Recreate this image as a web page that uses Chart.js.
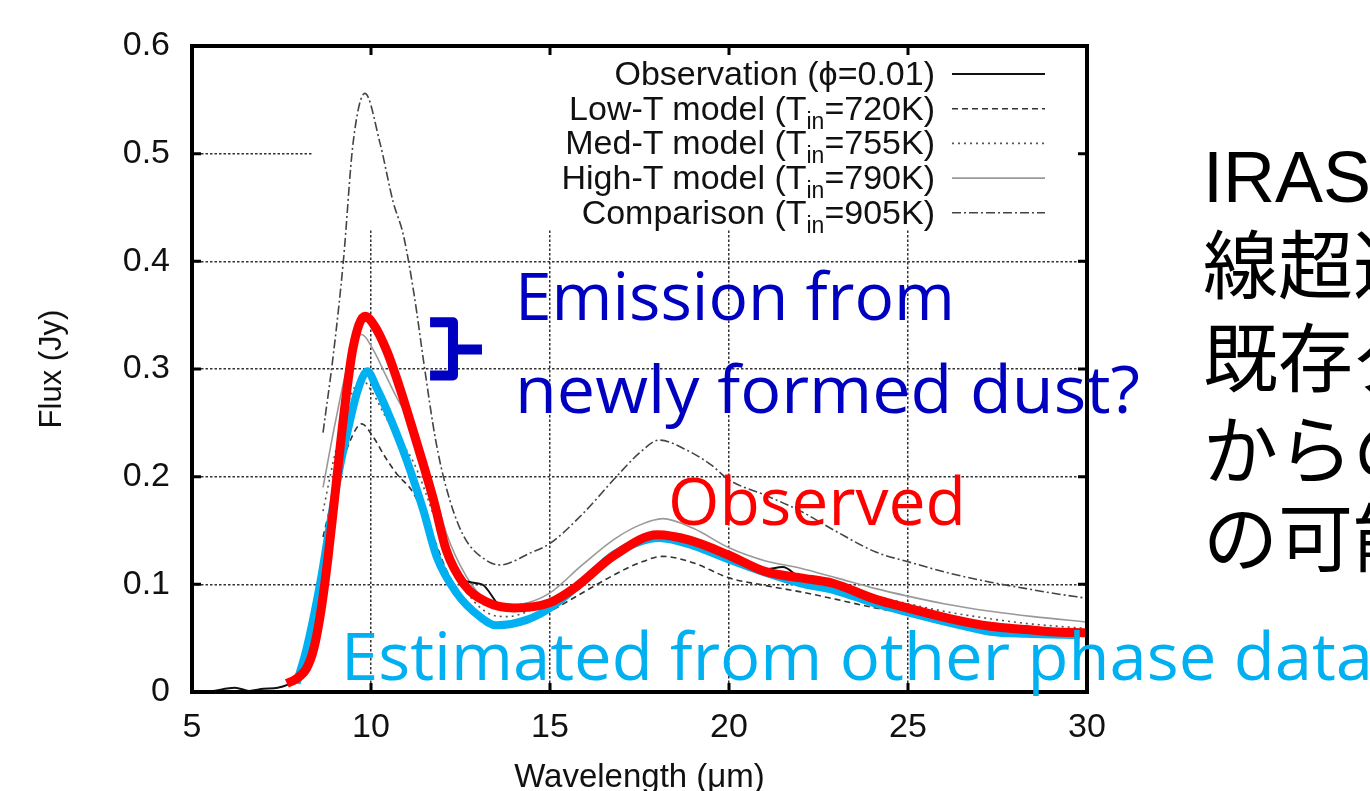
<!DOCTYPE html>
<html>
<head>
<meta charset="utf-8">
<script src="https://cdn.jsdelivr.net/npm/chart.js@4.4.1/dist/chart.umd.min.js"></script>
<style>
  html, body { margin: 0; padding: 0; width: 1370px; height: 791px; overflow: hidden; background: #fff; }
  #wrap { position: relative; width: 1370px; height: 791px; overflow: hidden; }
  #c, #notes { position: absolute; left: 0; top: 0; }
  #notes { pointer-events: none; }
</style>
</head>
<body>
<div id="wrap">
  <canvas id="c" width="1370" height="791"></canvas>
  <svg id="notes" width="1370" height="791" xmlns="http://www.w3.org/2000/svg"></svg>
</div>
<script>
// wavelength (um) / flux (Jy)
const wlObs = [5.6, 6.2, 6.6, 7.0, 7.4, 7.8, 8.2, 8.6, 9.0, 9.4, 9.8, 10.2, 10.6, 11.0, 11.5, 12.0, 12.5, 13.1, 13.6, 14.0, 15.0, 16.0, 17.0, 18.0, 19.0, 20.0, 21.0, 21.5, 22.0, 23.0, 24.0, 25.0, 26.0, 27.0, 28.0, 29.0, 29.9];
const fluxObs = [0.001, 0.004, 0.001, 0.003, 0.004, 0.01, 0.03, 0.085, 0.19, 0.29, 0.345, 0.335, 0.305, 0.265, 0.21, 0.145, 0.105, 0.1, 0.08, 0.077, 0.082, 0.105, 0.135, 0.146, 0.14, 0.128, 0.114, 0.116, 0.106, 0.1, 0.087, 0.078, 0.069, 0.062, 0.058, 0.056, 0.055];

const wlObserved = [7.65, 7.9, 8.2, 8.4, 8.6, 8.8, 9.0, 9.25, 9.5, 9.83, 10.1, 10.45, 10.8, 11.2, 11.75, 12.1, 12.6, 13.2, 14.0, 15.0, 15.7, 16.8, 18.0, 18.9, 20.0, 21.0, 22.0, 22.9, 24.1, 25.0, 26.2, 27.3, 28.3, 29.0, 30.0];
const fluxObserved = [0.008, 0.012, 0.022, 0.04, 0.075, 0.125, 0.185, 0.26, 0.32, 0.349, 0.34, 0.316, 0.283, 0.24, 0.178, 0.132, 0.1, 0.084, 0.078, 0.083, 0.097, 0.127, 0.146, 0.141, 0.127, 0.112, 0.106, 0.101, 0.086, 0.078, 0.068, 0.061, 0.058, 0.056, 0.055];

const wlEstimated = [7.92, 8.2, 8.58, 8.85, 9.13, 9.4, 9.6, 9.9, 10.15, 10.44, 11.0, 11.46, 11.83, 12.39, 13.04, 13.5, 14.35, 15.0, 16.0, 16.8, 18.05, 19.0, 20.0, 21.0, 22.0, 23.0, 24.1, 25.0, 26.2, 27.3, 28.3, 29.8];
const fluxEstimated = [0.008, 0.04, 0.101, 0.155, 0.209, 0.25, 0.277, 0.298, 0.283, 0.262, 0.215, 0.169, 0.126, 0.092, 0.07, 0.062, 0.067, 0.078, 0.105, 0.128, 0.143, 0.136, 0.123, 0.111, 0.101, 0.094, 0.082, 0.074, 0.064, 0.056, 0.054, 0.053];

const wlModel = [8.66, 9.0, 9.4, 9.74, 10.06, 10.4, 10.71, 11.18, 11.74, 12.11, 12.67, 13.23, 13.8, 14.4, 15.0, 15.9, 16.8, 17.5, 18.15, 19.0, 20.0, 21.0, 22.0, 23.0, 24.1, 25.0, 26.0, 27.3, 28.5, 30.0];
const fluxLowT = [0.144, 0.19, 0.232, 0.249, 0.237, 0.218, 0.203, 0.185, 0.144, 0.113, 0.082, 0.064, 0.061, 0.066, 0.075, 0.092, 0.109, 0.12, 0.126, 0.12, 0.106, 0.099, 0.093, 0.086, 0.078, 0.073, 0.067, 0.061, 0.058, 0.055];
const fluxMedT = [0.168, 0.222, 0.272, 0.29, 0.277, 0.256, 0.238, 0.214, 0.165, 0.128, 0.093, 0.074, 0.07, 0.075, 0.085, 0.105, 0.126, 0.138, 0.143, 0.138, 0.124, 0.114, 0.106, 0.098, 0.089, 0.082, 0.075, 0.068, 0.063, 0.059];
const fluxHighT = [0.19, 0.25, 0.31, 0.332, 0.318, 0.295, 0.274, 0.245, 0.19, 0.147, 0.107, 0.085, 0.08, 0.083, 0.092, 0.118, 0.142, 0.155, 0.161, 0.152, 0.134, 0.122, 0.115, 0.106, 0.096, 0.089, 0.082, 0.075, 0.07, 0.065];

const wlComp = [8.66, 8.95, 9.23, 9.5, 9.83, 10.25, 10.62, 10.9, 11.2, 11.5, 11.8, 12.1, 12.57, 13.23, 13.6, 14.44, 15.0, 15.9, 16.8, 17.5, 18.05, 18.8, 19.5, 20.0, 21.0, 22.0, 23.0, 24.1, 25.0, 26.2, 27.3, 28.3, 29.0, 30.0];
const fluxComp = [0.241, 0.314, 0.401, 0.51, 0.556, 0.51, 0.455, 0.425, 0.37, 0.3, 0.235, 0.19, 0.146, 0.122, 0.118, 0.129, 0.138, 0.165, 0.198, 0.222, 0.234, 0.225, 0.211, 0.197, 0.183, 0.168, 0.149, 0.13, 0.121, 0.11, 0.102, 0.096, 0.092, 0.087];

const xTicks = [5, 10, 15, 20, 25, 30];
const yTicks = [0, 0.1, 0.2, 0.3, 0.4, 0.5, 0.6];

const keyLabels = [
  ['Observation (ϕ=0.01)'],
  ['Low-T model (T', 'in', '=720K)'],
  ['Med-T model (T', 'in', '=755K)'],
  ['High-T model (T', 'in', '=790K)'],
  ['Comparison (T', 'in', '=905K)']
];

const notes = [
  { text: 'Emission from', x: 515, y: 320, w: 440, color: '#0000c0' },
  { text: 'newly formed dust?', x: 515, y: 413, w: 625, color: '#0000c0' },
  { text: 'Observed', x: 668, y: 525, w: 298, color: '#ff0000' },
  { text: 'Estimated from other phase data', x: 341, y: 680, w: 1032, color: '#00b0f0' }
];
const jpHead = 'IRAS';
const jpLines = ['の赤外', '線超過は', '既存ダスト', 'からの放射', 'の可能性'];
const jpBase = [202, 293, 386, 478, 566];

const pts = (xs, ys) => xs.map((v, i) => ({ x: v, y: ys[i] }));
const gnuFont = '"Liberation Sans", Arial, sans-serif';

const framePlugin = {
  id: 'frame',
  beforeDatasetsDraw(chart) {
    // opaque key box hides the grid
    const { ctx, chartArea: a, scales: { x, y } } = chart;
    const kx = x.getPixelForValue(8.35);
    const ky = y.getPixelForValue(0.43);
    ctx.save();
    ctx.fillStyle = '#fff';
    ctx.fillRect(kx, a.top, a.right - kx, ky - a.top);
    ctx.restore();
  },
  afterDatasetsDraw(chart) {
    const { ctx, chartArea: a, scales: { x, y } } = chart;
    ctx.save();
    chart.data.datasets.forEach(ds => {
      if (ds.keyRow === undefined) return;
      const yy = 74 + ds.keyRow * 34.7;
      ctx.strokeStyle = ds.borderColor;
      ctx.lineWidth = ds.borderWidth;
      ctx.setLineDash(ds.borderDash || []);
      ctx.beginPath();
      ctx.moveTo(952, yy);
      ctx.lineTo(1045, yy);
      ctx.stroke();
    });
    ctx.setLineDash([]);
    ctx.strokeStyle = '#000';
    ctx.lineWidth = 3;
    ctx.beginPath();
    xTicks.slice(1, -1).forEach(v => {
      const p = x.getPixelForValue(v);
      ctx.moveTo(p, a.bottom); ctx.lineTo(p, a.bottom - 9);
      ctx.moveTo(p, a.top); ctx.lineTo(p, a.top + 9);
    });
    yTicks.slice(1, -1).forEach(v => {
      const p = y.getPixelForValue(v);
      ctx.moveTo(a.left, p); ctx.lineTo(a.left + 9, p);
      ctx.moveTo(a.right, p); ctx.lineTo(a.right - 9, p);
    });
    ctx.stroke();
    ctx.lineWidth = 4;
    ctx.strokeRect(a.left, a.top, a.right - a.left, a.bottom - a.top);

    // brace between the two peaks
    const x0 = x.getPixelForValue(11.65), x1 = x.getPixelForValue(12.29), x2 = x.getPixelForValue(13.1);
    const yt = y.getPixelForValue(0.3435), ym = y.getPixelForValue(0.318), yb = y.getPixelForValue(0.294);
    ctx.strokeStyle = '#0000c0';
    ctx.lineWidth = 10;
    ctx.lineJoin = 'round';
    ctx.beginPath();
    ctx.moveTo(x0, yt); ctx.lineTo(x1, yt); ctx.lineTo(x1, ym); ctx.lineTo(x2, ym);
    ctx.moveTo(x1, ym); ctx.lineTo(x1, yb); ctx.lineTo(x0, yb);
    ctx.stroke();
    ctx.restore();
  }
};

const line = (data, color, width, dash, order, keyRow) => ({
  data, borderColor: color, borderWidth: width, borderDash: dash,
  pointRadius: 0, fill: false, cubicInterpolationMode: 'monotone', order, keyRow
});

new Chart(document.getElementById('c'), {
  type: 'line',
  data: {
    datasets: [
      line(pts(wlObserved, fluxObserved), '#ff0000', 9, [], 0),
      line(pts(wlEstimated, fluxEstimated), '#00b0f0', 8, [], 1),
      line(pts(wlObs, fluxObs), '#111', 2, [], 2, 0),
      line(pts(wlModel, fluxLowT), '#333', 1.6, [6, 4], 3, 1),
      line(pts(wlModel, fluxMedT), '#555', 1.6, [2, 4], 4, 2),
      line(pts(wlModel, fluxHighT), '#999', 1.6, [], 5, 3),
      line(pts(wlComp, fluxComp), '#444', 1.6, [9, 3, 2, 3], 6, 4)
    ]
  },
  options: {
    responsive: false,
    animation: false,
    layout: { padding: { left: 0, top: 46, right: 283, bottom: 0 } },
    plugins: { legend: { display: false }, tooltip: { enabled: false } },
    scales: {
      x: {
        type: 'linear', min: 5, max: 30,
        afterBuildTicks: s => { s.ticks = xTicks.map(v => ({ value: v })); },
        afterFit: s => { s.height = 99; },
        ticks: { color: '#111', font: { family: gnuFont, size: 34 }, padding: 15, maxRotation: 0 },
        grid: { color: '#333', lineWidth: 1.5, drawTicks: false },
        border: { display: false, dash: [2.5, 2] },
        title: { display: true, text: 'Wavelength (μm)', color: '#111',
                 font: { family: gnuFont, size: 33, lineHeight: 0.8 }, padding: { top: 0, bottom: 0 } }
      },
      y: {
        min: 0, max: 0.6,
        afterBuildTicks: s => { s.ticks = yTicks.map(v => ({ value: v })); },
        afterFit: s => { s.width = 192; },
        ticks: { color: '#111', font: { family: gnuFont, size: 34 }, padding: 22,
                 callback: v => (v === 0 ? '0' : v.toFixed(1)) },
        grid: { color: '#333', lineWidth: 1.5, drawTicks: false },
        border: { display: false, dash: [2.5, 2] },
        title: { display: true, text: 'Flux (Jy)', color: '#111',
                 font: { family: gnuFont, size: 31, lineHeight: 1.2 }, padding: { top: 34, bottom: 0 } }
      }
    }
  },
  plugins: [framePlugin]
});

// text layer
const svg = document.getElementById('notes');
const NS = 'http://www.w3.org/2000/svg';
function addText(str, attrs) {
  const t = document.createElementNS(NS, 'text');
  for (const k in attrs) t.setAttribute(k, attrs[k]);
  t.textContent = str;
  svg.appendChild(t);
  return t;
}
function addSpan(t, str, attrs) {
  const s = document.createElementNS(NS, 'tspan');
  for (const k in attrs) s.setAttribute(k, attrs[k]);
  s.textContent = str;
  t.appendChild(s);
}
keyLabels.forEach((parts, i) => {
  const t = addText('', { x: 935, y: 85 + i * 34.7, 'text-anchor': 'end', fill: '#111',
                          'font-family': gnuFont, 'font-size': 34 });
  parts.forEach((p, j) => {
    if (j === 1) addSpan(t, p, { 'font-size': 23, dy: 9 });
    else if (j === 2) addSpan(t, p, { dy: -9 });
    else addSpan(t, p, {});
  });
});
notes.forEach(n => addText(n.text, { x: n.x, y: n.y, fill: n.color, 'font-family': '"Open Sans", sans-serif',
  'font-size': 66, textLength: n.w, lengthAdjust: 'spacingAndGlyphs' }));
jpLines.forEach((s, i) => {
  const t = addText('', { x: 1203, y: jpBase[i], fill: '#000',
    'font-family': '"Noto Sans CJK JP", sans-serif', 'font-size': 75 });
  if (i === 0) addSpan(t, jpHead, { 'font-family': gnuFont, 'font-size': 72 });
  addSpan(t, s, {});
});
</script>
</body>
</html>
